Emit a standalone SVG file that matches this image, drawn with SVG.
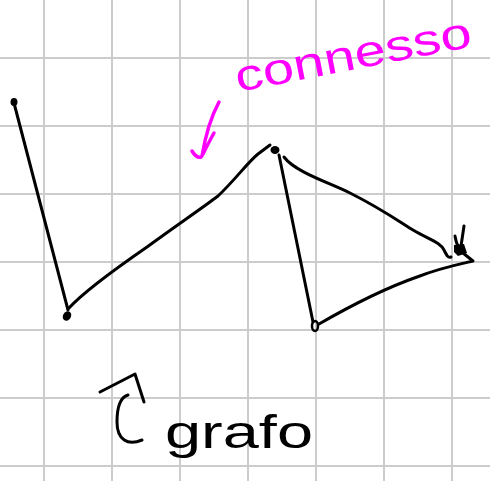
<svg xmlns="http://www.w3.org/2000/svg" width="490" height="481" viewBox="0 0 490 481">
<style>
.grid{stroke:#cccccc;stroke-width:2;fill:none}
.ink{stroke:#000;stroke-width:3;fill:none;stroke-linecap:round;stroke-linejoin:round}
.pink{stroke:#ff00ff;stroke-width:3.5;fill:none;stroke-linecap:round;stroke-linejoin:round}
.dot{fill:#000}
.hand{font-family:"Liberation Sans","DejaVu Sans",sans-serif}
</style>
<rect width="490" height="481" fill="#fff"/>
<g id="grid" class="grid">
<path d="M44 0V481M112 0V481M180 0V481M248 0V481M316 0V481M384 0V481M452 0V481"/>
<path d="M0 58H490M0 126H490M0 194H490M0 262H490M0 330H490M0 398H490M0 466H490"/>
</g>
<g id="connectors" class="ink">
<path d="M14 103 L68 310"/>
<path d="M69 308 C80 296 105 276 147 247 C180 223 205 206 218 196 C235 180 248 162 258 154 L270 145"/>
<path d="M279 155 L313 322"/>
<path d="M284 157 C295 172 330 183 350 193 C380 208 400 222 413 230 C430 240 440 242 444 250 C447 256 448 258 451 257"/>
<path d="M319 324 C345 309 380 290 417 277 C440 268 460 264 473 261 L463 253"/>
<path d="M464 226 L461 246 M455 236 C456 240 456 244 459 247"/>
</g>
<g id="node-A"><ellipse class="dot" cx="14" cy="102" rx="3.5" ry="4"/></g>
<g id="node-B"><ellipse class="dot" cx="67" cy="316" rx="4" ry="5" transform="rotate(30 67 316)"/></g>
<g id="node-C"><ellipse class="dot" cx="275" cy="150" rx="4.5" ry="4"/></g>
<g id="node-D"><ellipse cx="315" cy="326" rx="3" ry="5" fill="none" stroke="#000" stroke-width="2.5"/></g>
<g id="node-E"><path class="dot" d="M454 245 L464 244 L467 253 L458 256 L454 252 Z"/></g>
<g id="label-connesso">
<text class="hand" x="238" y="92" font-size="44" fill="#ff00ff" textLength="240" lengthAdjust="spacingAndGlyphs" transform="rotate(-11 238 92)">connesso</text>
<path class="pink" d="M219 102 C212 115 206 132 202 156 M192 151 C195 156 198 158 201 157 M214 133 C210 140 206 148 203 154"/>
</g>
<g id="label-grafo">
<text class="hand" x="165" y="448" font-size="46" fill="#000" textLength="148" lengthAdjust="spacingAndGlyphs">grafo</text>
<path class="ink" d="M100 392 L135 374 L144 402"/>
<path class="ink" d="M142 440 C128 446 117 440 117 422 C117 405 121 397 128 395"/>
</g>
</svg>
